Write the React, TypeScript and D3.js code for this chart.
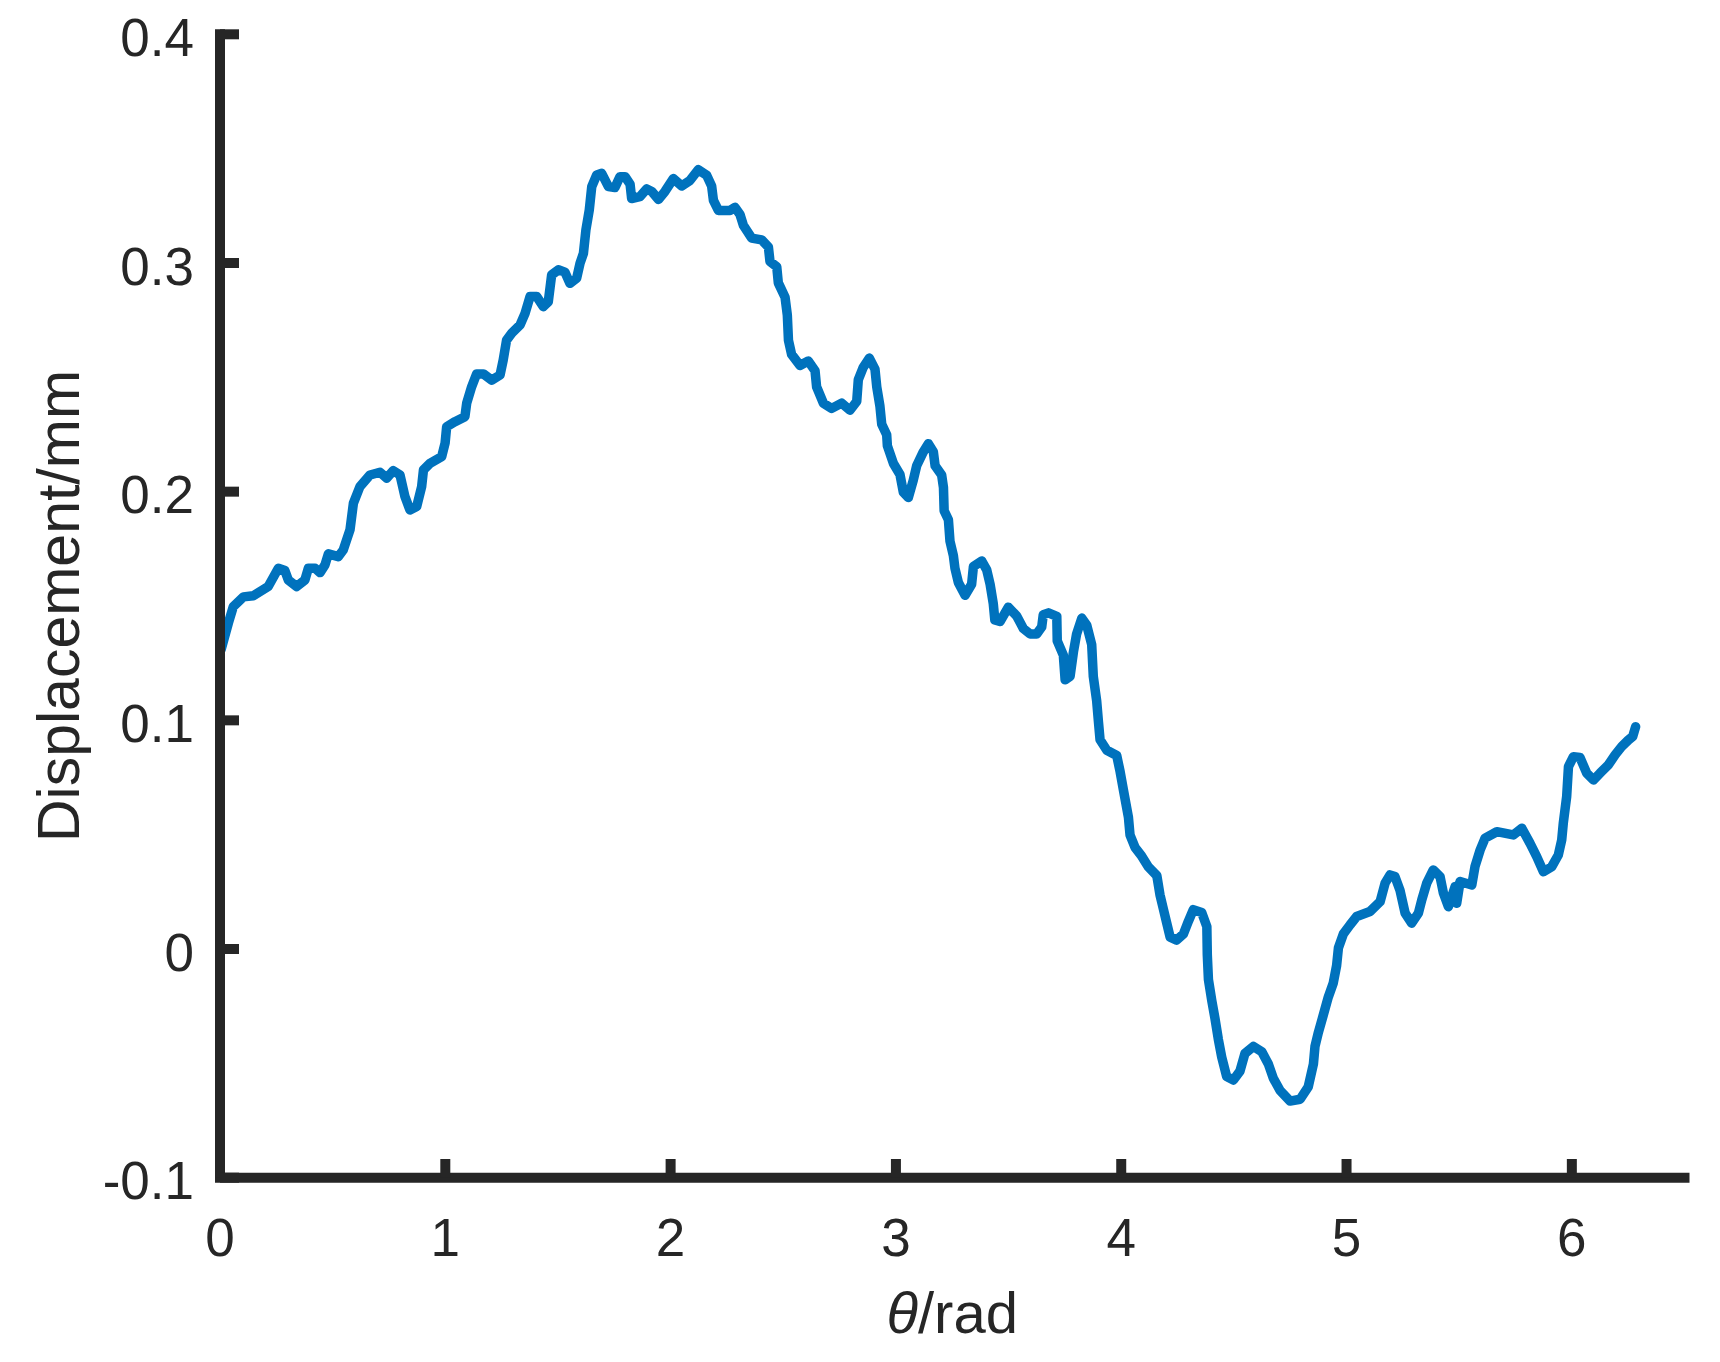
import React, { useEffect, useRef } from "react";
import * as d3 from "d3";

const theta = [
  0.005, 0.037, 0.059, 0.104, 0.148, 0.214, 0.259, 0.288, 0.303, 0.34, 0.377, 0.392, 0.422, 0.444, 0.466,
  0.481, 0.525, 0.547, 0.577, 0.592, 0.621, 0.666, 0.71, 0.74, 0.769, 0.799, 0.821, 0.843, 0.873, 0.895,
  0.903, 0.932, 0.984, 0.999, 1.006, 1.043, 1.087, 1.095, 1.117, 1.139, 1.169, 1.206, 1.243, 1.257, 1.272,
  1.295, 1.332, 1.354, 1.376, 1.406, 1.435, 1.457, 1.472, 1.502, 1.531, 1.553, 1.583, 1.598, 1.613, 1.624,
  1.639, 1.65, 1.672, 1.694, 1.724, 1.753, 1.775, 1.798,
  1.82, 1.827, 1.864, 1.894, 1.916, 1.946, 1.975, 2.012, 2.049, 2.086, 2.123, 2.16, 2.182, 2.19, 2.212,
  2.264, 2.286, 2.308, 2.323, 2.36, 2.404, 2.434, 2.441, 2.471, 2.478, 2.508, 2.518, 2.523, 2.537, 2.574,
  2.611, 2.641, 2.648, 2.678, 2.715, 2.759, 2.796, 2.826, 2.833, 2.855, 2.882, 2.907, 2.915, 2.929, 2.937,
  2.959, 2.962, 2.989, 3.018, 3.033, 3.055, 3.077, 3.092, 3.122, 3.144, 3.166, 3.174, 3.203, 3.211, 3.214,
  3.233, 3.24, 3.255, 3.262, 3.277, 3.307, 3.336, 3.344, 3.381, 3.403, 3.418, 3.432, 3.439, 3.462, 3.499,
  3.536, 3.566,
  3.595, 3.625, 3.647, 3.654, 3.677, 3.714, 3.716, 3.743, 3.751, 3.773, 3.788, 3.802, 3.825, 3.847, 3.869,
  3.876, 3.891, 3.899, 3.906, 3.936, 3.98, 3.995, 4.009, 4.032, 4.039, 4.061, 4.091, 4.12, 4.158, 4.172,
  4.187, 4.202, 4.217, 4.246, 4.276, 4.298, 4.32, 4.357, 4.38, 4.382, 4.387, 4.402, 4.416, 4.431, 4.446,
  4.468, 4.498, 4.527, 4.549, 4.587, 4.624, 4.653, 4.675, 4.705, 4.749, 4.794, 4.83, 4.853, 4.86, 4.875,
  4.897, 4.919, 4.941, 4.956, 4.964, 4.986, 5.016,
  5.045, 5.104, 5.149, 5.171, 5.193, 5.215, 5.237, 5.26, 5.289, 5.319, 5.334, 5.356, 5.385, 5.415, 5.43,
  5.452, 5.482, 5.489, 5.504, 5.556, 5.57, 5.593, 5.615, 5.667, 5.74, 5.778, 5.814, 5.844, 5.874, 5.911,
  5.94, 5.955, 5.962, 5.977, 5.985, 6.007, 6.036, 6.066, 6.096, 6.125, 6.162, 6.192, 6.221, 6.251, 6.27,
  6.283,
];

const displacement = [
  0.131, 0.1425, 0.1497, 0.154, 0.1545, 0.1585, 0.1665, 0.1655, 0.1614, 0.1585, 0.1614, 0.1665, 0.1665, 0.1646, 0.168,
  0.1728, 0.1716, 0.1745, 0.1833, 0.1949, 0.2022, 0.2073, 0.2085, 0.2059, 0.2092, 0.2073, 0.1978, 0.192, 0.1935, 0.2022,
  0.2095, 0.2124, 0.2153, 0.2212, 0.2284, 0.2306, 0.2328, 0.2387, 0.2459, 0.2515, 0.2515, 0.2488, 0.251, 0.2576, 0.2663,
  0.2693, 0.2729, 0.278, 0.2853, 0.2853, 0.2809, 0.283, 0.2948, 0.297, 0.296, 0.2911, 0.2933, 0.2999, 0.3042, 0.3144,
  0.3232, 0.3334, 0.3385, 0.3392, 0.3334, 0.333, 0.3377, 0.3377,
  0.3345, 0.3282, 0.329, 0.3324, 0.3313, 0.3278, 0.3313, 0.3369, 0.3337, 0.3361, 0.3408, 0.3384, 0.3337, 0.3274, 0.323,
  0.323, 0.3243, 0.3212, 0.3164, 0.3109, 0.3101, 0.307, 0.3007, 0.2984, 0.2913, 0.285, 0.2772, 0.2662, 0.26, 0.2552,
  0.2571, 0.2529, 0.2458, 0.2387, 0.2364, 0.2387, 0.2356, 0.2395, 0.2489, 0.2544, 0.2584, 0.2536, 0.2458, 0.2374, 0.2295,
  0.2249, 0.2201, 0.2123, 0.2075, 0.1997, 0.1974, 0.205, 0.2113, 0.2175, 0.221, 0.2175, 0.2113, 0.2073, 0.2018, 0.1917,
  0.1877, 0.1783, 0.172, 0.1665, 0.1603, 0.1547, 0.1595, 0.1673, 0.1697, 0.1658, 0.1595, 0.1511, 0.1439, 0.1432, 0.1495,
  0.1456, 0.1401,
  0.1378, 0.1378, 0.1408, 0.1462, 0.147, 0.1455, 0.1347, 0.1285, 0.1177, 0.1192, 0.13, 0.1378, 0.1447, 0.1416, 0.1331,
  0.1192, 0.1085, 0.0992, 0.0915, 0.0869, 0.0846, 0.0776, 0.0699, 0.0576, 0.0499, 0.0445, 0.0406, 0.036, 0.0321, 0.0237,
  0.0175, 0.0113, 0.0052, 0.0039, 0.0066, 0.0121, 0.0172, 0.016, 0.0098, -0.0025, -0.0133, -0.0226, -0.0303, -0.0395, -0.0473,
  -0.0558, -0.0573, -0.0534, -0.0457, -0.0426, -0.0449, -0.0503, -0.0565, -0.0619, -0.0665, -0.0657, -0.0603, -0.0503, -0.0426, -0.0365,
  -0.0288, -0.021, -0.0149, -0.0072, 0.0005, 0.0066, 0.0106,
  0.0142, 0.0164, 0.0207, 0.0288, 0.0324, 0.0317, 0.0258, 0.0157, 0.0113, 0.0157, 0.0215, 0.0288, 0.0346, 0.0317, 0.0244,
  0.0185, 0.0273, 0.02, 0.0295, 0.028, 0.036, 0.0433, 0.0485, 0.0513, 0.0499, 0.0528, 0.0463, 0.0404, 0.0338, 0.036,
  0.0411, 0.0477, 0.055, 0.0666, 0.0798, 0.0841, 0.0838, 0.0769, 0.0739, 0.0769, 0.0805, 0.0849, 0.0885, 0.0914, 0.0929,
  0.0972,
];

const xTicks = [0, 1, 2, 3, 4, 5, 6];
const yTicks = [-0.1, 0, 0.1, 0.2, 0.3, 0.4];

const W = 1720;
const H = 1362;
const axisColor = "#262626";
const lineColor = "#0072BD";
const font = "'Liberation Sans', Arial, Helvetica, sans-serif";

export default function App() {
  const ref = useRef<SVGSVGElement>(null);

  useEffect(() => {
    const svg = d3.select(ref.current);
    svg.selectAll("*").remove();

    const x = d3.scaleLinear().domain([0, 6.5]).range([220, 1684.5]);
    const y = d3.scaleLinear().domain([-0.1, 0.4]).range([1177.7, 34.3]);

    const pts: [number, number][] = theta.map((t, i) => [t, displacement[i]]);

    // data line
    svg.append("path")
      .attr("d", d3.line<[number, number]>().x(d => x(d[0])).y(d => y(d[1]))(pts) as string)
      .attr("fill", "none")
      .attr("stroke", lineColor)
      .attr("stroke-width", 9.5)
      .attr("stroke-linejoin", "round")
      .attr("stroke-linecap", "round");

    // axes (left + bottom only)
    svg.append("path")
      .attr("d", `M${x(0)},${y(0.4)}L${x(0)},${y(-0.1)}L${x(6.5)},${y(-0.1)}`)
      .attr("fill", "none")
      .attr("stroke", axisColor)
      .attr("stroke-width", 10)
      .attr("stroke-linecap", "square");

    // inward ticks
    svg.selectAll(".xt").data(xTicks).enter().append("line")
      .attr("x1", d => x(d)).attr("x2", d => x(d))
      .attr("y1", y(-0.1)).attr("y2", y(-0.1) - 18.7)
      .attr("stroke", axisColor).attr("stroke-width", 10);

    svg.selectAll(".yt").data(yTicks).enter().append("line")
      .attr("x1", x(0)).attr("x2", x(0) + 19)
      .attr("y1", d => y(d)).attr("y2", d => y(d))
      .attr("stroke", axisColor).attr("stroke-width", 10);

    // tick labels
    svg.selectAll(".xl").data(xTicks).enter().append("text")
      .attr("x", d => x(d))
      .attr("y", 1255.7)
      .attr("text-anchor", "middle")
      .attr("font-family", font)
      .attr("font-size", 53)
      .attr("fill", axisColor)
      .text(d => String(d));

    svg.selectAll(".yl").data(yTicks).enter().append("text")
      .attr("x", 194)
      .attr("y", d => y(d) + 21.7)
      .attr("text-anchor", "end")
      .attr("font-family", font)
      .attr("font-size", 53)
      .attr("fill", axisColor)
      .text(d => (d === 0 ? "0" : String(d)));

    // axis titles
    const xt = svg.append("text")
      .attr("x", (x(0) + x(6.5)) / 2)
      .attr("y", 1333.3)
      .attr("text-anchor", "middle")
      .attr("font-family", font)
      .attr("font-size", 58)
      .attr("fill", axisColor);
    xt.append("tspan").attr("font-style", "italic").text("θ");
    xt.append("tspan").text("/rad");

    svg.append("text")
      .attr("transform", `translate(79,${(y(0.4) + y(-0.1)) / 2}) rotate(-90)`)
      .attr("text-anchor", "middle")
      .attr("font-family", font)
      .attr("font-size", 59)
      .attr("fill", axisColor)
      .text("Displacement/mm");
  }, []);

  return (
    <svg
      ref={ref}
      width={W}
      height={H}
      style={{ position: "absolute", left: 0, top: 0, background: "#fff" }}
    />
  );
}
